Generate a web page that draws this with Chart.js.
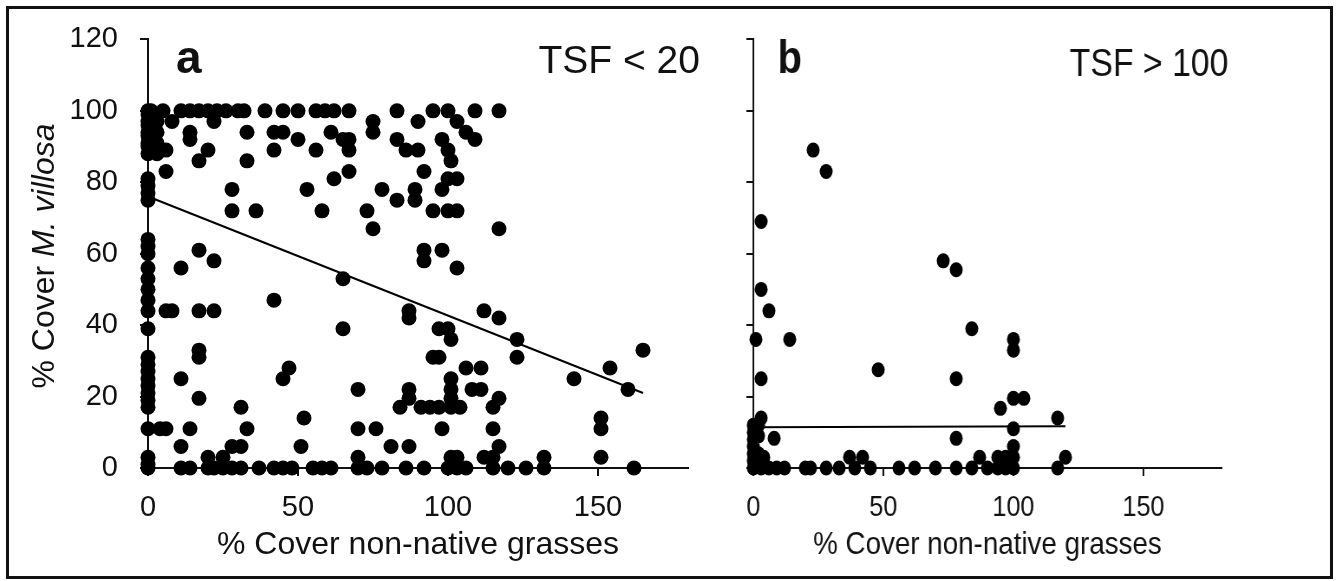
<!DOCTYPE html>
<html>
<head>
<meta charset="utf-8">
<script src="https://cdn.jsdelivr.net/npm/chart.js@4.4.1/dist/chart.umd.min.js"></script>
<style>
  body { margin: 0; background: #fff; }
  #wrap { position: relative; width: 1337px; height: 581px; overflow: hidden; }
  #chartA { position: absolute; left: 0; top: 0; }
  #chartB { position: absolute; left: 625px; top: 0; transform: scaleX(0.867); transform-origin: 0 0; }
  #frame { position: absolute; left: 6px; top: 6px; width: 1327px; height: 573px;
           box-sizing: border-box; border: 3px solid #111; pointer-events: none; }
</style>
</head>
<body>
<div id="wrap">
  <canvas id="chartA" width="705" height="581"></canvas>
  <canvas id="chartB" width="720" height="581"></canvas>
  <div id="frame"></div>
</div>
<script>
const xTickValues = [0, 50, 100, 150];
const yTickValues = [0, 20, 40, 60, 80, 100, 120];

// panel a, TSF < 20 (read row by row, top to bottom)
const aX = [
  0,0,0,0,0,0,0,0,0,0,0,0,0,0,0,0,0,0,0,0,0,0,0,0,0,0,0,0,0,0,0,0,0,0,
  3,3,3,3,
  1,5,11,14,17,20,23,26,30,32,39,45,50,56,59,62,67,83,95,100,109,117,
  8,22,75,90,103,
  14,33,42,45,61,75,106,
  14,50,65,67,83,98,109,
  6,20,42,56,67,86,90,100,
  17,33,101,
  6,67,92,
  62,100,103,
  28,53,78,89,98,
  83,89,
  28,36,58,73,95,100,103,
  75,117,
  17,92,98,
  22,92,
  11,103,
  65,
  42,
  6,8,17,22,87,112,
  87,117,
  65,97,100,
  101,123,
  17,165,
  17,95,97,123,
  47,106,111,154,
  11,45,101,142,
  70,87,101,108,111,160,
  17,87,101,117,
  31,84,91,94,97,101,104,115,
  52,151,
  4,6,14,33,70,76,98,115,151,
  11,28,31,51,81,87,117,
  20,25,70,101,103,112,115,132,151,
  11,14,20,22,25,28,31,37,42,45,48,55,58,61,70,73,78,86,92,100,103,106,115,120,126,132,162
];
const aY = [
  100,99,97,96,94,93,91,90,88,81,79,77,75,64,62,60,56,53,50,47,44,39,31,29,27,25,23,21,19,17,11,3,1,0,
  97,94,91,88,
  100,100,100,100,100,100,100,100,100,100,100,100,100,100,100,100,100,100,100,100,100,100,
  97,97,97,97,97,
  94,94,94,94,94,94,94,
  92,92,92,92,92,92,92,
  89,89,89,89,89,89,89,89,
  86,86,86,
  83,83,83,
  81,81,81,
  78,78,78,78,78,
  75,75,
  72,72,72,72,72,72,72,
  67,67,
  61,61,61,
  58,58,
  56,56,
  53,
  47,
  44,44,44,44,44,44,
  42,42,
  39,39,39,
  36,36,
  33,33,
  31,31,31,31,
  28,28,28,28,
  25,25,25,25,
  22,22,22,22,22,22,
  19.5,19.5,19.5,19.5,
  17,17,17,17,17,17,17,17,
  14,14,
  11,11,11,11,11,11,11,11,11,
  6,6,6,6,6,6,6,
  3,3,3,3,3,3,3,3,3,
  0,0,0,0,0,0,0,0,0,0,0,0,0,0,0,0,0,0,0,0,0,0,0,0,0,0,0
];
const aFitX = [0, 165];
const aFitY = [76, 21];

// panel b, TSF > 100
const bX = [
  0,0,0,0,0,0,0,1,2,2,2,3,4,1,
  23,28,3,73,78,3,6,14,84,100,100,48,78,3,100,104,95,117,3,100,8,78,100,120,117,
  3,6,9,12,20,22,28,33,39,45,56,62,70,78,84,90,94,97,100,
  37,42,87,94,97,100
];
const bY = [
  0,2,4,6,8,10,12,1,4,9,12,1,3,36,
  89,83,69,58,55.5,50,44,36,39,36,33,27.5,25,25,19.5,19.5,16.7,14,14,11,8.3,8.3,6,3,0,
  0,0,0,0,0,0,0,0,0,0,0,0,0,0,0,0,0,0,0,
  3,3,3,3,3,3
];
const bFitX = [0, 120];
const bFitY = [11.4, 11.7];

const FONT = '"Liberation Sans", Arial, sans-serif';

const panelText = {
  id: 'panelText',
  afterDraw(chart, args, opts) {
    const ctx = chart.ctx;
    const area = chart.chartArea;
    ctx.save();
    ctx.fillStyle = '#111';
    ctx.textBaseline = 'alphabetic';
    ctx.font = 'bold 46px ' + FONT;
    ctx.textAlign = 'left';
    ctx.fillText(opts.letter, area.left + 28, 73);
    ctx.font = '39px ' + FONT;
    ctx.textAlign = 'right';
    ctx.fillText(opts.label, area.right + opts.labelDx, opts.labelY);
    if (opts.yTitle) {
      // y title with the species name in italics
      const partA = '% Cover ';
      const partB = 'M. villosa';
      ctx.translate(45, 256);
      ctx.rotate(-Math.PI / 2);
      ctx.textBaseline = 'middle';
      ctx.textAlign = 'left';
      ctx.font = '32px ' + FONT;
      const wA = ctx.measureText(partA).width;
      ctx.font = 'italic 32px ' + FONT;
      const wB = ctx.measureText(partB).width;
      const start = -(wA + wB) / 2;
      ctx.font = '32px ' + FONT;
      ctx.fillText(partA, start, 0);
      ctx.font = 'italic 32px ' + FONT;
      ctx.fillText(partB, start + wA, 0);
    }
    ctx.restore();
  }
};

function toPoints(xs, ys) {
  return xs.map((x, i) => ({ x: x, y: ys[i] }));
}

function buildChart(id, xs, ys, fitX, fitY, showYLabels, text, rightPad) {
  return new Chart(document.getElementById(id).getContext('2d'), {
    type: 'scatter',
    data: {
      datasets: [
        {
          data: toPoints(xs, ys),
          backgroundColor: '#000',
          borderWidth: 0,
          pointRadius: 7.5,
          pointHoverRadius: 7.5,
          clip: false,
        },
        {
          data: toPoints(fitX, fitY),
          showLine: true,
          borderColor: '#000',
          borderWidth: 2,
          pointRadius: 0,
          pointHoverRadius: 0,
          clip: false,
        },
      ],
    },
    options: {
      responsive: false,
      animation: false,
      events: [],
      layout: { padding: { left: 0, top: 36, right: rightPad, bottom: 0 } },
      scales: {
        x: {
          type: 'linear',
          min: 0,
          max: 180,
          afterFit: s => { s.height = 113; },
          afterBuildTicks: s => { s.ticks = xTickValues.map(v => ({ value: v })); },
          grid: { drawOnChartArea: false, drawTicks: true, tickLength: 8, color: '#111', lineWidth: 2 },
          border: { display: true, color: '#111', width: 2 },
          ticks: { color: '#111', font: { size: 29, family: FONT }, padding: 15, maxRotation: 0 },
          title: {
            display: true,
            text: '% Cover non-native grasses',
            color: '#111',
            font: { size: 32, family: FONT },
            padding: { top: 17, bottom: 17 },
          },
        },
        y: {
          type: 'linear',
          min: 0,
          max: 120,
          afterFit: s => { s.width = 148; },
          afterBuildTicks: s => { s.ticks = yTickValues.map(v => ({ value: v })); },
          grid: { drawOnChartArea: false, drawTicks: true, tickLength: 8, color: '#111', lineWidth: 2 },
          border: { display: true, color: '#111', width: 2 },
          ticks: {
            color: '#111',
            font: { size: 29, family: FONT },
            padding: 22,
            callback: v => (showYLabels ? v : ''),
          },
        },
      },
      plugins: {
        legend: { display: false },
        tooltip: { enabled: false },
        panelText: text,
      },
    },
    plugins: [panelText],
  });
}

buildChart('chartA', aX, aY, aFitX, aFitY, true,
  { letter: 'a', label: 'TSF < 20', labelDx: 12, labelY: 73, yTitle: true }, 17);
buildChart('chartB', bX, bY, bFitX, bFitY, false,
  { letter: 'b', label: 'TSF > 100', labelDx: 8, labelY: 76, yTitle: false }, 32);
</script>
</body>
</html>
